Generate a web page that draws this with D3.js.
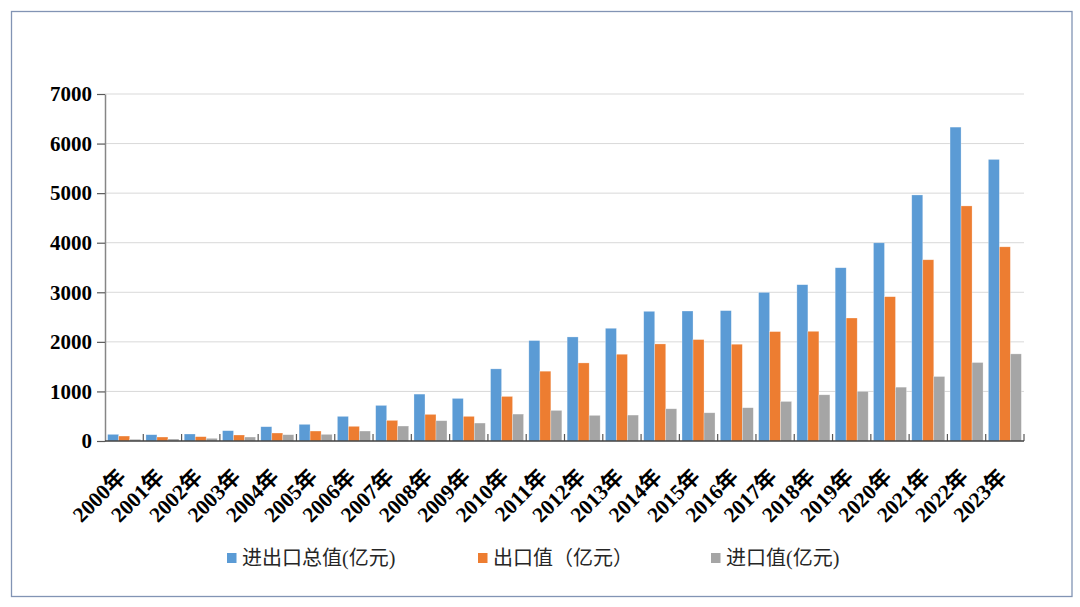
<!DOCTYPE html>
<html>
<head>
<meta charset="utf-8">
<script src="https://cdn.jsdelivr.net/npm/d3@7"></script>
<style>
  html, body { margin: 0; padding: 0; background: #fff; }
  svg { display: block; }
</style>
</head>
<body>
<svg id="chart" width="1080" height="607"></svg>
<script>
/* ── Data ────────────────────────────────────────────── */
const years   = ['2000年','2001年','2002年','2003年','2004年','2005年','2006年','2007年',
                 '2008年','2009年','2010年','2011年','2012年','2013年','2014年','2015年',
                 '2016年','2017年','2018年','2019年','2020年','2021年','2022年','2023年'];
const totalVal  = [134, 127, 141, 208, 288, 336, 497, 718, 946, 859, 1455, 2026,
                   2099, 2274, 2616, 2622, 2630, 2998, 3153, 3495, 3998, 4963, 6332, 5680];
const exportVal = [100, 80, 87, 121, 161, 201, 296, 416, 537, 497, 899, 1408,
                   1575, 1750, 1958, 2046, 1952, 2207, 2213, 2481, 2911, 3656, 4742, 3917];
const importVal = [34, 40, 54, 80, 127, 134, 201, 302, 409, 362, 543, 617,
                   517, 523, 650, 569, 671, 798, 932, 1000, 1086, 1301, 1583, 1757];
const seriesNames = ['进出口总值(亿元)', '出口值（亿元）', '进口值(亿元)'];
const yTicks = [0, 1000, 2000, 3000, 4000, 5000, 6000, 7000];

const COLORS = ['#5b9bd5', '#ed7d31', '#a5a5a5'];

/* ── Layout ──────────────────────────────────────────── */
const svg = d3.select('#chart');
const X0 = 105, X1 = 1024, Y0 = 441, Y1 = 94;

// outer frame
svg.append('rect')
  .attr('x', 11.5).attr('y', 11.5)
  .attr('width', 1060.5).attr('height', 585)
  .attr('fill', 'none')
  .attr('stroke', '#8294b4')
  .attr('stroke-width', 1.3);

const y = d3.scaleLinear().domain([0, 7000]).range([Y0, Y1]);

const pi = 0.138;
const x = d3.scaleBand().domain(years).range([X0, X1])
  .paddingInner(pi).paddingOuter(pi / 2);
const xs = d3.scaleBand().domain(d3.range(3)).range([0, x.bandwidth()]);

// gridlines
svg.append('g')
  .selectAll('line')
  .data(yTicks.filter(d => d > 0))
  .join('line')
  .attr('x1', X0).attr('x2', X1)
  .attr('y1', d => y(d)).attr('y2', d => y(d))
  .attr('stroke', '#d9d9d9')
  .attr('stroke-width', 1);

// y axis
const yAxis = svg.append('g')
  .attr('transform', `translate(${X0},0)`)
  .call(d3.axisLeft(y).tickValues(yTicks).tickFormat(d3.format('d'))
    .tickSize(8).tickSizeOuter(0).tickPadding(5));
yAxis.select('.domain').attr('stroke', '#868686').attr('stroke-width', 1.5);
yAxis.selectAll('.tick line').attr('stroke', '#595959').attr('stroke-width', 1.2);
yAxis.selectAll('.tick text')
  .attr('fill', '#000')
  .style('font-family', '"Liberation Serif", "Times New Roman", serif')
  .style('font-weight', 'bold')
  .style('font-size', '21px');

// bars
const rows = years.map((yr, i) => ({ yr, vals: [totalVal[i], exportVal[i], importVal[i]] }));
const groups = svg.append('g')
  .selectAll('g')
  .data(rows)
  .join('g')
  .attr('transform', d => `translate(${x(d.yr)},0)`);

groups.selectAll('rect')
  .data(d => d.vals.map((v, k) => ({ v, k })))
  .join('rect')
  .attr('x', d => xs(d.k))
  .attr('width', xs.bandwidth())
  .attr('y', d => y(d.v))
  .attr('height', d => Y0 - y(d.v))
  .attr('fill', d => COLORS[d.k])
  .attr('stroke', '#ffffff')
  .attr('stroke-opacity', 0.45)
  .attr('stroke-width', 0.6);

// x axis (ticks between categories, pointing inward)
const step = x.step();
const bounds = d3.range(years.length + 1).map(i => X0 + i * step);
const xg = svg.append('g');
xg.selectAll('line.tk')
  .data(bounds.slice(1))
  .join('line')
  .attr('class', 'tk')
  .attr('x1', d => d).attr('x2', d => d)
  .attr('y1', Y0).attr('y2', Y0 - 7)
  .attr('stroke', '#595959')
  .attr('stroke-width', 1.2);
xg.append('line')
  .attr('x1', X0).attr('x2', X1)
  .attr('y1', Y0).attr('y2', Y0)
  .attr('stroke', '#404040')
  .attr('stroke-width', 1.6);

xg.selectAll('text')
  .data(years)
  .join('text')
  .attr('transform', d => `translate(${x(d) + x.bandwidth() / 2 + 3},${Y0 + 37}) rotate(-45)`)
  .attr('text-anchor', 'end')
  .attr('fill', '#000')
  .style('font-family', '"Liberation Serif", "Times New Roman", "Noto Sans CJK SC", serif')
  .style('font-weight', 'bold')
  .style('font-size', '21.5px')
  .text(d => d);

// legend
const legX = [227, 478, 711];
const leg = svg.append('g')
  .selectAll('g')
  .data(seriesNames)
  .join('g')
  .attr('transform', (d, i) => `translate(${legX[i]},553)`);
leg.append('rect')
  .attr('width', 9.5).attr('height', 10)
  .attr('fill', (d, i) => COLORS[i]);
leg.append('text')
  .attr('x', 15).attr('y', 5)
  .attr('dy', '0.36em')
  .attr('fill', '#262626')
  .style('font-family', '"Liberation Serif", "Noto Sans CJK SC", sans-serif')
  .style('font-size', '20px')
  .text(d => d);
</script>
</body>
</html>
